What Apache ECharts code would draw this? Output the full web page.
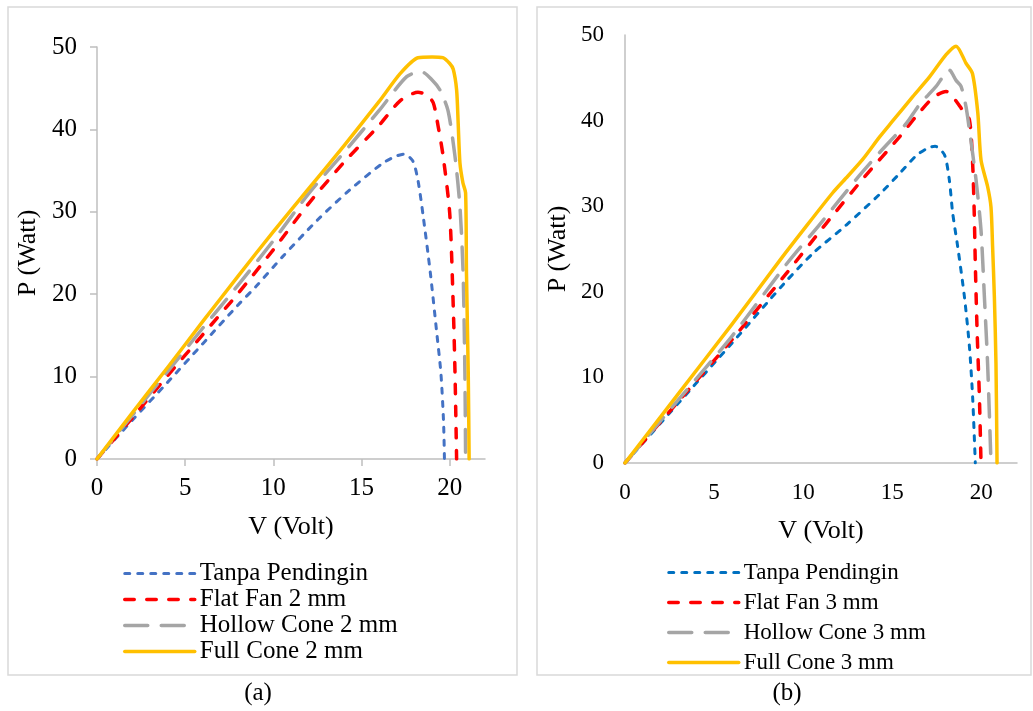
<!DOCTYPE html>
<html>
<head>
<meta charset="utf-8">
<script src="https://cdn.jsdelivr.net/npm/echarts@6/dist/echarts.min.js"></script>
<style>
  html, body { margin: 0; padding: 0; background: #ffffff; }
  #chart { width: 1033px; height: 711px; }
</style>
</head>
<body>
<div id="chart"></div>
<script>
// Axis ticks (volt and watt)
const voltTicks = [0, 5, 10, 15, 20];
const wattTicks = [0, 10, 20, 30, 40, 50];

// Legend names
const namesA = ['Tanpa Pendingin', 'Flat Fan 2 mm', 'Hollow Cone 2 mm', 'Full Cone 2 mm'];
const namesB = ['Tanpa Pendingin', 'Flat Fan 3 mm', 'Hollow Cone 3 mm', 'Full Cone 3 mm'];

// P-V curves, nozzle 2 mm: [V (Volt), P (Watt)]
const tanpaA = [[0,0],[2,4.7],[4,9.3],[6,14.0],[8,18.7],[9,20.9],[10.5,24.5],[12.5,29.0],[14.3,32.6],[16.2,35.9],[16.9,36.7],[17.4,37.0],[17.9,36.2],[18.2,33.8],[18.5,29.4],[18.9,22.6],[19.25,15.6],[19.5,10.4],[19.65,4.5],[19.7,0]];
const flatA = [[0,0],[2,5.0],[4,10.1],[6,15.1],[8,20.1],[10,25.4],[12,31.0],[14,36.0],[16,40.5],[17.2,43.5],[18.2,44.5],[18.7,44.2],[19.07,43.2],[19.35,40.3],[19.63,36.7],[20.0,29.8],[20.2,18.5],[20.3,10.4],[20.39,0]];
const hollowA = [[0,0],[2,5.3],[4,10.6],[6,15.9],[8,21.1],[10,26.5],[12,32.2],[14,37.2],[16,42.3],[17.56,46.4],[18.4,47.0],[19.0,46.0],[19.44,44.8],[19.9,42.3],[20.3,36.7],[20.58,30.6],[20.76,22.5],[20.86,10.4],[20.9,0]];
const fullA = [[0,0],[2,5.6],[4,11.1],[6,16.7],[8,22.2],[10,27.6],[12,32.8],[14,38.0],[16,43.4],[17.2,46.8],[18.2,48.7],[19.0,48.8],[19.6,48.7],[20.0,48.0],[20.2,47.3],[20.39,44.8],[20.48,40.7],[20.58,35.9],[20.75,33.5],[20.9,32.3],[20.95,22.5],[21.05,10.4],[21.1,0]];

// P-V curves, nozzle 3 mm
const tanpaB = [[0,0],[3,7.0],[6,14.0],[8.9,20.9],[10.55,24.5],[12.42,27.8],[14.29,31.4],[15.4,33.8],[16.34,35.9],[17.0,36.8],[17.4,37.0],[17.93,36.0],[18.2,33.1],[18.39,29.2],[18.67,25.3],[19.05,19.4],[19.33,13.6],[19.51,7.7],[19.66,0]];
const flatB = [[0,0],[3,7.2],[6,14.4],[9.0,22.0],[11.3,28.0],[13.35,33.2],[15.41,38.1],[16.34,40.5],[17.3,42.7],[18.02,43.4],[18.39,42.8],[18.95,41.2],[19.33,40.1],[19.51,35.0],[19.6,29.2],[19.66,23.3],[19.76,15.5],[19.89,7.7],[19.98,0]];
const hollowB = [[0,0],[3,7.4],[6,14.8],[9.2,23.6],[10.9,27.8],[13.0,33.2],[14.3,36.3],[15.8,39.7],[16.5,41.8],[17.46,44.0],[18.2,45.9],[18.58,44.7],[18.86,44.0],[19.14,41.6],[19.33,38.9],[19.7,33.1],[19.98,27.2],[20.17,19.4],[20.35,11.6],[20.54,0]];
const fullB = [[0,0],[3,8.1],[6,16.2],[8.7,23.7],[10,27.2],[11.67,31.6],[12.5,33.5],[13.35,35.5],[14.29,38.1],[15,39.9],[16.15,42.8],[17.09,45.1],[18.02,47.7],[18.58,48.7],[19.14,46.7],[19.5,45.5],[19.8,40.9],[19.98,35.4],[20.35,32.3],[20.54,29.9],[20.63,25.3],[20.73,19.4],[20.82,11.6],[20.88,0]];

const FONT = '"Liberation Serif", "Times New Roman", serif';
const AXIS_GREY = '#BFBFBF';

// Line looks shared by both panels
const looks = [
  { width: 3,   type: [5, 8],      cap: 'round' },   // short dots
  { width: 3.5, type: [9.5, 12.5], cap: 'round' },   // dashes
  { width: 3.5, type: [23, 13.5],  cap: 'round' },   // long dashes
  { width: 3.5, type: 'solid',     cap: 'round' }    // solid
];
const colorsA = ['#4472C4', '#FF0000', '#A5A5A5', '#FFC000'];
const colorsB = ['#0070C0', '#FF0000', '#A5A5A5', '#FFC000'];

function makeSeries(names, colors, datas, axisIndex) {
  return datas.map((d, i) => ({
    name: names[i],
    type: 'line',
    xAxisIndex: axisIndex,
    yAxisIndex: axisIndex,
    data: d,
    smooth: 0.25,
    showSymbol: false,
    symbol: 'none',
    animation: false,
    color: colors[i],
    lineStyle: Object.assign({ color: colors[i], join: 'round' }, looks[i])
  }));
}

function xAxisFor(gridIndex, ticks, labelSize, labelMargin, nameGap) {
  return {
    type: 'value', gridIndex: gridIndex, min: 0, max: 22,
    name: 'V (Volt)', nameLocation: 'middle', nameGap: nameGap,
    nameTextStyle: { fontFamily: FONT, fontSize: 26, color: '#000' },
    axisLine: { show: true, onZero: false, lineStyle: { color: AXIS_GREY, width: 1.5 } },
    axisTick: { show: ticks, inside: false, length: 7, customValues: voltTicks,
                lineStyle: { color: AXIS_GREY, width: 1.5 } },
    axisLabel: { customValues: voltTicks, fontFamily: FONT, fontSize: labelSize,
                 color: '#000', margin: labelMargin },
    splitLine: { show: false }
  };
}

function yAxisFor(gridIndex, ticks, labelSize, labelMargin, nameGap) {
  return {
    type: 'value', gridIndex: gridIndex, min: 0, max: 50, interval: 10,
    name: 'P (Watt)', nameLocation: 'middle', nameGap: nameGap,
    nameTextStyle: { fontFamily: FONT, fontSize: 26, color: '#000' },
    axisLine: { show: true, onZero: false, lineStyle: { color: AXIS_GREY, width: 1.5 } },
    axisTick: { show: ticks, inside: false, length: 7,
                lineStyle: { color: AXIS_GREY, width: 1.5 } },
    axisLabel: { customValues: wattTicks, fontFamily: FONT, fontSize: labelSize,
                 color: '#000', margin: labelMargin },
    splitLine: { show: false }
  };
}

function legendFor(names, colors, left, top, fontSize, gap) {
  return {
    orient: 'vertical', left: left, top: top, padding: 0,
    itemWidth: 70, itemHeight: 14, itemGap: gap,
    selectedMode: false,
    textStyle: { fontFamily: FONT, fontSize: fontSize, color: '#000' },
    data: names.map((n, i) => ({
      name: n,
      lineStyle: Object.assign({ color: colors[i] }, looks[i]),
      itemStyle: { color: colors[i], opacity: 0 }
    }))
  };
}

const chart = echarts.init(document.getElementById('chart'), null, { renderer: 'canvas' });

chart.setOption({
  backgroundColor: '#ffffff',
  animation: false,
  grid: [
    { left: 97,  top: 47, width: 388, height: 412 },
    { left: 625, top: 35, width: 392, height: 428 }
  ],
  xAxis: [
    xAxisFor(0, true, 25, 17, 55),
    xAxisFor(1, false, 23, 18, 55)
  ],
  yAxis: [
    yAxisFor(0, true, 25, 20, 56),
    yAxisFor(1, false, 23, 21, 54)
  ],
  legend: [
    legendFor(namesA, colorsA, 123, 561, 25, 1),
    legendFor(namesB, colorsB, 667, 561, 23, 7)
  ],
  series: [
    ...makeSeries(namesA, colorsA, [tanpaA, flatA, hollowA, fullA], 0),
    ...makeSeries(namesB, colorsB, [tanpaB, flatB, hollowB, fullB], 1)
  ],
  graphic: [
    { type: 'rect', shape: { x: 8, y: 7, width: 509, height: 668 },
      style: { fill: 'none', stroke: '#D9D9D9', lineWidth: 1.5 }, silent: true },
    { type: 'rect', shape: { x: 537, y: 7, width: 494, height: 668 },
      style: { fill: 'none', stroke: '#D9D9D9', lineWidth: 1.5 }, silent: true },
    { type: 'text', x: 258, y: 693,
      style: { text: '(a)', font: '25px ' + FONT, fill: '#000', align: 'center', verticalAlign: 'middle' } },
    { type: 'text', x: 787, y: 693,
      style: { text: '(b)', font: '25px ' + FONT, fill: '#000', align: 'center', verticalAlign: 'middle' } }
  ]
});
</script>
</body>
</html>
